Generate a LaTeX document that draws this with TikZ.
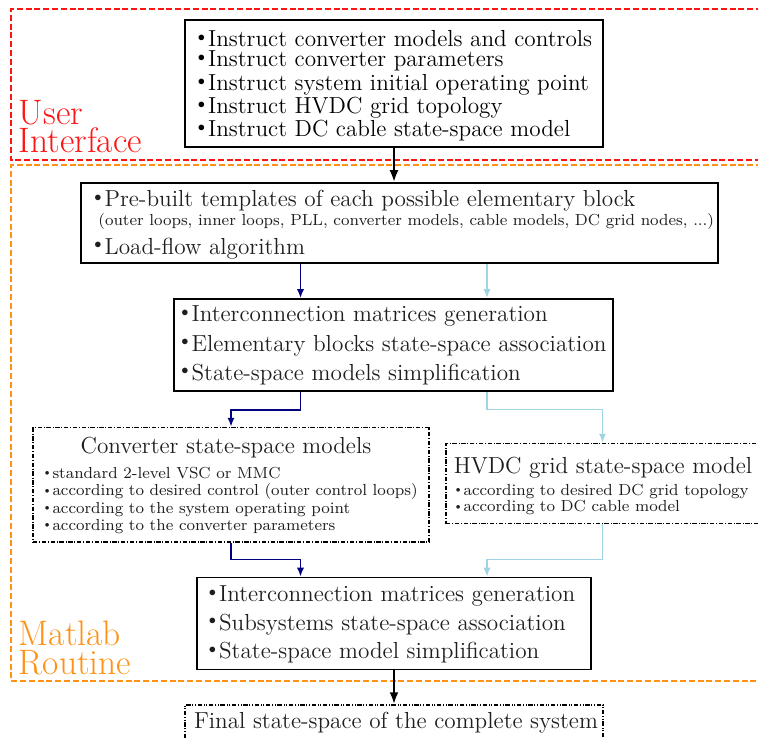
\documentclass[tikz,border=0pt]{standalone}
\usepackage{graphicx}
\usetikzlibrary{arrows.meta}
\definecolor{uired}{RGB}{255,20,20}
\definecolor{mrorange}{RGB}{255,145,20}
\definecolor{navyc}{RGB}{0,0,128}
\definecolor{lblue}{RGB}{160,212,228}
\definecolor{txt}{RGB}{30,30,30}
\newcommand\mbul{\makebox[5.1pt][l]{\raisebox{2.6pt}{\scalebox{0.6}{$\bullet$}}}}
\newcommand\sbul{\makebox[3.8pt][l]{\raisebox{1.3pt}{\scalebox{0.55}{$\bullet$}}}}
\begin{document}
\begin{tikzpicture}[x=0.5pt,y=-0.5pt,
  solidbox/.style={draw, line width=0.8pt, inner sep=0pt},
  dotbox/.style={draw, line width=0.75pt, dash pattern=on 2.2pt off 0.9pt on 0.4pt off 0.9pt, inner sep=0pt},
  ddbox/.style={draw, line width=0.75pt, dash pattern=on 2.2pt off 0.9pt on 0.4pt off 0.9pt on 0.4pt off 0.9pt, inner sep=0pt},
  mline/.style={anchor=base west, inner sep=0pt, text=txt, font=\fontsize{11.6}{13}\selectfont},
  mtitle/.style={anchor=base, inner sep=0pt, text=txt, font=\fontsize{11.6}{13}\selectfont},
  sline/.style={anchor=base west, inner sep=0pt, text=txt, font=\fontsize{8}{9}\selectfont},
  blackarrow/.style={line width=1.2pt, -{Latex[length=6pt,width=4.5pt]}},
  navyarrow/.style={navyc, line width=0.9pt, -{Latex[length=4.5pt,width=3.6pt]}},
  bluearrow/.style={lblue, line width=0.9pt, -{Latex[length=4.5pt,width=3.6pt]}},
  regionred/.style={uired, line width=0.9pt, dash pattern=on 3pt off 1.4pt},
  regionorange/.style={mrorange, line width=0.9pt, dash pattern=on 3pt off 1.4pt},
  regionlabel/.style={anchor=south west, align=left, inner sep=0pt, font=\fontsize{17.7}{14.25}\selectfont}
]
\useasboundingbox (0,0) rectangle (758,738);

% regions
\draw[regionred] (762,9) -- (11,9) -- (11,160) -- (762,160);
\draw[regionorange] (762,165) -- (11,165) -- (11,681) -- (762,681);
\node[regionlabel, text=uired] (ui) at (18.5,153.5) {User\\Interface};
\node[regionlabel, text=mrorange] (mr) at (18.5,675) {Matlab\\Routine};

% boxes
\node[solidbox, line width=1pt, minimum width=209pt, minimum height=63.5pt] (b1) at (394,83.75) {};
\node[solidbox, minimum width=318.5pt, minimum height=40pt] (b2) at (399.5,223) {};
\node[solidbox, minimum width=219.5pt, minimum height=46pt] (b3) at (393.5,345) {};
\node[dotbox, minimum width=198pt, minimum height=57.25pt] (conv) at (231,484.75) {};
\node[dotbox, minimum width=156.5pt, minimum height=40pt] (hvdc) at (602.5,483.5) {};
\node[solidbox, minimum width=197pt, minimum height=46pt] (b4) at (394,623.5) {};
\node[ddbox, minimum width=209pt, minimum height=18pt] (fin) at (394,723) {};

% texts of the top box
\node[mline, text=black] (t11) at (197.5,46.5) {\mbul Instruct converter models and controls};
\node[mline, text=black] (t12) at (197.5,67) {\mbul Instruct converter parameters};
\node[mline, text=black] (t13) at (197.5,90.5) {\mbul Instruct system initial operating point};
\node[mline, text=black] (t14) at (197.5,113.5) {\mbul Instruct HVDC grid topology};
\node[mline, text=black] (t15) at (197.5,136.5) {\mbul Instruct DC cable state-space model};

% box 2
\node[mline] (t21) at (94,206.5) {\mbul Pre-built templates of each possible elementary block};
\node[sline] (t22) at (98,225.5) {(outer loops, inner loops, PLL, converter models, cable models, DC grid nodes, ...)};
\node[mline] (t23) at (94,254) {\mbul Load-flow algorithm};

% box 3
\node[mline] (t31) at (181,321.5) {\mbul Interconnection matrices generation};
\node[mline] (t32) at (181,351) {\mbul Elementary blocks state-space association};
\node[mline] (t33) at (181,380) {\mbul State-space models simplification};

% converter box
\node[mtitle] (tc0) at (226,453.3) {Converter state-space models};
\node[sline] (tc1) at (44.5,478.3) {\sbul standard 2-level VSC or MMC};
\node[sline] (tc2) at (44.5,495.7) {\sbul according to desired control (outer control loops)};
\node[sline] (tc3) at (44.5,513) {\sbul according to the system operating point};
\node[sline] (tc4) at (44.5,530) {\sbul according to the converter parameters};

% HVDC box
\node[mtitle] (th0) at (603,473.3) {HVDC grid state-space model};
\node[sline] (th1) at (455.5,495) {\sbul according to desired DC grid topology};
\node[sline] (th2) at (455.5,511.7) {\sbul according to DC cable model};

% box 4
\node[mline] (t41) at (208.5,601.5) {\mbul Interconnection matrices generation};
\node[mline] (t42) at (208.5,630) {\mbul Subsystems state-space association};
\node[mline] (t43) at (208.5,658.5) {\mbul State-space model simplification};

% final
\node[mtitle] (tf) at (396,728.3) {Final state-space of the complete system};

% connectors
\draw[blackarrow] (b1.south) -- (b1.south |- b2.north);
\draw[navyarrow] (b2.south -| 300.5,0) -- (b3.north -| 300.5,0);
\draw[bluearrow] (b2.south -| 487,0) -- (b3.north -| 487,0);
\draw[navyarrow] (b3.south -| 300.5,0) -- (300.5,410) -| (conv.north);
\draw[bluearrow] (b3.south -| 487,0) -- (487,409.5) -| (hvdc.north);
\draw[navyarrow] (conv.south) -- (231,559.5) -| (b4.north -| 300.5,0);
\draw[bluearrow] (hvdc.south) -- (602.5,559.5) -| (b4.north -| 487,0);
\draw[blackarrow] (b4.south) -- (b4.south |- fin.north);
\end{tikzpicture}
\end{document}
